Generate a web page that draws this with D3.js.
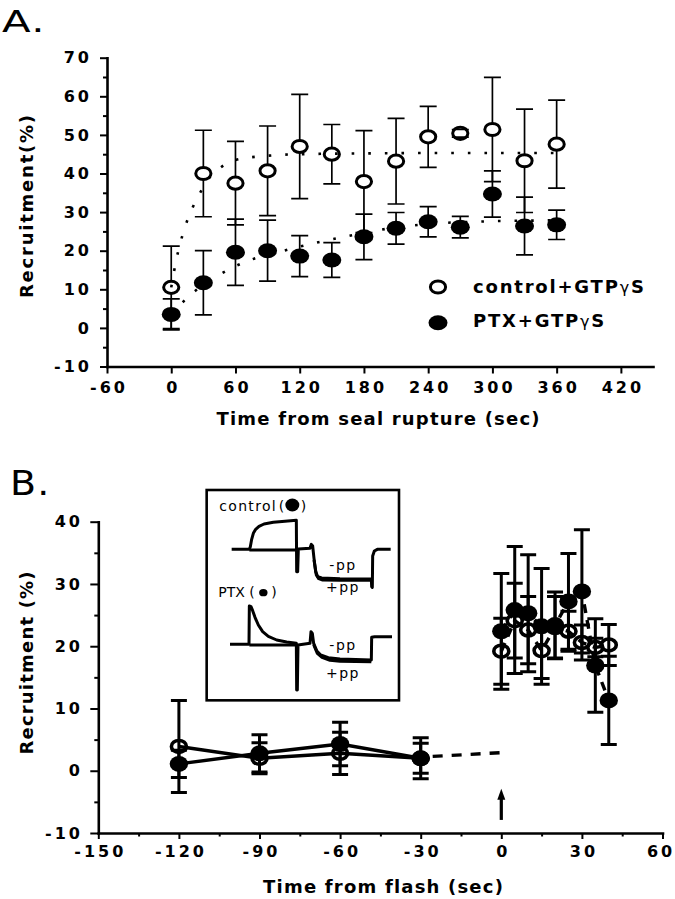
<!DOCTYPE html>
<html><head><meta charset="utf-8">
<script src="https://cdn.jsdelivr.net/npm/d3@7"></script>
<style>
body{margin:0;background:#fff;}
svg{display:block;}
</style></head><body>
<svg id="c" width="675" height="899"></svg>
<script>
// ================= DATA =================
// Panel A : recruitment vs time from seal rupture
const aTimes      = [0,30,60,90,120,150,180,210,240,270,300,330,360];
const aControl    = [10.5,40,37.5,40.7,47,45,37.9,43.2,49.5,50.4,51.4,43.3,47.6];
const aControlErr = [10.7,11.2,10.8,11.6,13.5,7.7,13.2,11.1,7.9,1.0,13.5,13.4,11.4];
const aPTX        = [3.5,11.7,19.6,20,18.6,17.6,23.6,25.8,27.5,26.1,34.7,26.4,26.7];
const aPTXErr     = [4,8.3,8.6,7.9,5.3,4.5,5.9,4.1,3.9,2.8,6,7.5,3.8];
// fitted (dotted) curves
const aControlFitT = [0,5,11,20,27,34,45,60,90,120,180,240,300,360];
const aControlFitY = [10.5,18,24.5,31.2,35,38.3,41.3,43.5,44.6,45,45.2,45.3,45.3,45.3];
const aPTXFitT = [0,15,30,45,60,75,104,134,162,193,224,255,283,308,339,360];
const aPTXFitY = [3.5,7.8,11.2,13.8,16,17.7,19.9,22,23.6,25.3,26.5,27.2,27.5,27.7,27.8,27.9];
const aXTicks = [-60,0,60,120,180,240,300,360,420];
const aYTicks = [-10,0,10,20,30,40,50,60,70];
const aYMinor = [-5,5,15,25,35,45,55,65];
const aLegend = ["control+GTP", "PTX+GTP"];

// Panel B : recruitment vs time from flash
const bPreT = [-120,-90,-60,-30];
const bPreOpen = [3.9,2.0,2.8,2.0];
const bPreOpenErr = [7.4,2.5,3.4,3.3];
const bPreFilled = [1.1,2.8,4.3,2.0];
const bPreFilledErr = [2.2,3.0,3.5,2.4];
const bPostT = [0,5,10,15,20,25,30,35,40];
const bPostOpen = [19.2,24.1,22.6,19.3,23.0,22.4,20.6,19.8,20.2];
const bPostOpenErr = [5.3,6.0,5.4,4.5,5.0,3.2,2.8,1.5,3.3];
const bPostFilled = [22.4,25.8,25.3,23.2,23.4,27.2,28.8,16.9,11.3];
const bPostFilledErr = [9.3,10.2,9.4,9.3,5.3,7.7,9.9,7.5,7.1];
const bBridgeT = [-30,0];
const bBridgeY = [2.2,2.9];
const bArrowT = 0, bArrowY = [-7.9,-2.9];
const bXTicks = [-150,-120,-90,-60,-30,0,30,60];
const bXMinor = [-135,-105,-75,-45,-15,15,45];
const bYTicks = [-10,0,10,20,30,40];
const bYMinor = [-5,5,15,25,35];

// Inset traces (arbitrary units)
const insCtrlTrace = [[95,208],[148,208],[151,200],[155,178],[160,160],[167,148],[177,139],[192,132],[220,127],[255,124],[289,121],[290,275],[293,275],[295,207],[330,205],[334,193],[338,198],[342,235],[347,275],[353,290],[365,294],[420,296],[514,297],[515,320],[517,322],[518,228],[523,213],[532,208],[572,208]];
const insCtrlBase = [[148,210],[290,210]];
const insCtrlLow  = [[342,240],[349,285],[356,296],[368,300],[420,301],[514,301]];
const insPtxTrace = [[90,493],[147,493],[148,378],[153,380],[158,392],[165,412],[175,435],[188,455],[205,469],[230,480],[260,486],[289,490],[290,630],[292,630],[294,495],[330,490],[333,455],[337,460],[341,490],[350,512],[362,525],[385,533],[420,537],[514,540],[515,472],[524,470],[576,470]];
const insPtxBase = [[148,495],[290,495]];
const insPtxLow  = [[341,494],[352,520],[366,532],[390,541],[420,544],[514,545]];

// ================= DRAW =================
const svg = d3.select("#c");
const FB = "DejaVu Sans, sans-serif";
const fmt = d => String(d);

function styleAxis(g, ls){
  g.select(".domain").attr("stroke","#000").attr("stroke-width",2.6).attr("stroke-linecap","square");
  g.selectAll(".tick line").attr("stroke","#000").attr("stroke-width",2);
  g.selectAll(".tick text").attr("font-family",FB).attr("font-weight","bold")
    .attr("font-size",16).attr("letter-spacing",ls).attr("fill","#000");
}
function minor(g){ g.select(".domain").remove(); g.selectAll(".tick line").attr("stroke","#000").attr("stroke-width",2); }

function errBars(g, ts, ys, es, xS, yS, cap, sw, withCaps, withStem){
  const d = ts.map((t,i)=>({t, y:ys[i], e:es[i]}));
  g.append("g").selectAll("path").data(d).join("path")
    .attr("d", p => {
      const x=xS(p.t), y1=yS(p.y+p.e), y0=yS(p.y-p.e);
      let s="";
      if(withStem) s+=`M${x},${y1}V${y0}`;
      if(withCaps) s+=`M${x-cap},${y1}H${x+cap}M${x-cap},${y0}H${x+cap}`;
      return s;
    })
    .attr("stroke","#000").attr("stroke-width",sw).attr("fill","none");
}
function markers(g, ts, ys, xS, yS, rx, ry, filled, sw, fillOpen){
  g.append("g").selectAll("ellipse").data(ts.map((t,i)=>({t,y:ys[i]}))).join("ellipse")
    .attr("cx",p=>xS(p.t)).attr("cy",p=>yS(p.y)).attr("rx",rx).attr("ry",ry)
    .attr("fill", filled ? "#000" : fillOpen)
    .attr("stroke", "#000").attr("stroke-width", filled ? 0 : sw);
}

// ---------- Panel A ----------
const xA = d3.scaleLinear().domain([-60,450]).range([107,653]);
const yA = d3.scaleLinear().domain([-10,70]).range([366.5,57.7]);
const gA = svg.append("g");

gA.append("g").attr("transform",`translate(0,${yA(-10)})`)
  .call(d3.axisBottom(xA).tickValues(aXTicks).tickFormat(fmt).tickSize(7).tickSizeOuter(0).tickPadding(7.8))
  .call(g=>styleAxis(g,3)).call(g=>g.selectAll(".tick text").attr("dx",1.5));
gA.append("g").attr("transform",`translate(${xA(-60)},0)`)
  .call(d3.axisLeft(yA).tickValues(aYTicks).tickFormat(fmt).tickSize(7).tickSizeOuter(0).tickPadding(8))
  .call(g=>styleAxis(g,3));
gA.append("g").attr("transform",`translate(${xA(-60)},0)`)
  .call(d3.axisLeft(yA).tickValues(aYMinor).tickSize(4).tickFormat(()=>""))
  .call(minor);

errBars(gA, aTimes, aControl, aControlErr, xA, yA, 8.5, 1.7, false, true);
errBars(gA, aTimes, aPTX, aPTXErr, xA, yA, 8.5, 1.7, false, true);
markers(gA, aTimes, aPTX, xA, yA, 9.5, 7.5, true);
markers(gA, aTimes, aControl, xA, yA, 7.6, 6.1, false, 3, "#fff");
errBars(gA, aTimes, aControl, aControlErr, xA, yA, 8.5, 1.7, true, false);
errBars(gA, aTimes, aPTX, aPTXErr, xA, yA, 8.5, 1.7, true, false);

const lineA = d3.line().x(d=>xA(d[0])).y(d=>yA(d[1])).curve(d3.curveMonotoneX);
gA.append("path").attr("d", lineA(aControlFitT.map((t,i)=>[t,aControlFitY[i]])))
  .attr("fill","none").attr("stroke","#000").attr("stroke-width",2.6).attr("stroke-dasharray","2.6,14");
gA.append("path").attr("d", lineA(aPTXFitT.map((t,i)=>[t,aPTXFitY[i]])))
  .attr("fill","none").attr("stroke","#000").attr("stroke-width",2.6).attr("stroke-dasharray","2.6,14");

// legend
const legA = gA.append("g");
legA.append("ellipse").attr("cx",438).attr("cy",287).attr("rx",7.6).attr("ry",6.1)
  .attr("fill","#fff").attr("stroke","#000").attr("stroke-width",3);
legA.append("ellipse").attr("cx",438).attr("cy",322.7).attr("rx",9.5).attr("ry",7.5).attr("fill","#000");
[[aLegend[0],293.3],[aLegend[1],326.7]].forEach(([s,y])=>{
  const t = legA.append("text").attr("x",473).attr("y",y).attr("font-family",FB)
    .attr("font-weight","bold").attr("font-size",18).attr("letter-spacing",1.8).attr("fill","#000");
  t.append("tspan").text(s);
  t.append("tspan").attr("font-weight","normal").attr("font-size",16).text("γ");
  t.append("tspan").text("S");
});

// titles
gA.append("text").attr("x",378).attr("y",425).attr("text-anchor","middle").attr("dx",0.6)
  .attr("font-family",FB).attr("font-weight","bold").attr("font-size",18).attr("letter-spacing",1.2)
  .text("Time from seal rupture (sec)");
gA.append("text").attr("transform","translate(32.5,206.5) rotate(-90)").attr("text-anchor","middle").attr("dx",0.9)
  .attr("font-family",FB).attr("font-weight","bold").attr("font-size",18).attr("letter-spacing",1.77)
  .text("Recruitment(%)");
gA.append("text").attr("transform","translate(2,32) scale(1.35,1)")
  .attr("font-family",FB).attr("font-size",31).attr("letter-spacing",1).text("A.");

// ---------- Panel B ----------
const xB = d3.scaleLinear().domain([-150,60]).range([98.3,662.5]);
const yB = d3.scaleLinear().domain([-10,40]).range([833,521.7]);
const gB = svg.append("g");

gB.append("g").attr("transform",`translate(0,${yB(-10)})`)
  .call(d3.axisBottom(xB).tickValues(bXTicks).tickFormat(fmt).tickSize(6).tickSizeOuter(0).tickPadding(6.6))
  .call(g=>styleAxis(g,3))
  .call(g=>g.selectAll(".tick text").attr("dx",d=> d===60 ? -2 : 1.5));
gB.append("g").attr("transform",`translate(0,${yB(-10)})`)
  .call(d3.axisBottom(xB).tickValues(bXMinor).tickSize(3.5).tickFormat(()=>""))
  .call(minor);
gB.append("g").attr("transform",`translate(${xB(-150)},0)`)
  .call(d3.axisLeft(yB).tickValues(bYTicks).tickFormat(fmt).tickSize(8).tickSizeOuter(0).tickPadding(7.3))
  .call(g=>styleAxis(g,3));
gB.append("g").attr("transform",`translate(${xB(-150)},0)`)
  .call(d3.axisLeft(yB).tickValues(bYMinor).tickSize(4).tickFormat(()=>""))
  .call(minor);

const lineB = d3.line().x(d=>xB(d[0])).y(d=>yB(d[1]));
const pairs = (ts,ys)=>ts.map((t,i)=>[t,ys[i]]);
// pre-flash solid lines
[bPreOpen,bPreFilled].forEach(ys=>{
  gB.append("path").attr("d",lineB(pairs(bPreT,ys))).attr("fill","none")
    .attr("stroke","#000").attr("stroke-width",3.4);
});
// bridge dashed
gB.append("path").attr("d",lineB(pairs(bBridgeT,bBridgeY))).attr("fill","none")
  .attr("stroke","#000").attr("stroke-width",3.4).attr("stroke-dasharray","10,9").attr("stroke-dashoffset",-12);
// post-flash dashed
[bPostOpen,bPostFilled].forEach(ys=>{
  gB.append("path").attr("d",lineB(pairs(bPostT,ys))).attr("fill","none")
    .attr("stroke","#000").attr("stroke-width",3.4).attr("stroke-dasharray","9,7");
});
// error bars
errBars(gB, bPreT, bPreOpen, bPreOpenErr, xB, yB, 8, 3, true, true);
errBars(gB, bPreT, bPreFilled, bPreFilledErr, xB, yB, 8, 3, true, true);
errBars(gB, bPostT, bPostOpen, bPostOpenErr, xB, yB, 8, 3, true, true);
errBars(gB, bPostT, bPostFilled, bPostFilledErr, xB, yB, 8, 3, true, true);
// markers
markers(gB, bPreT, bPreOpen, xB, yB, 7.5, 6, false, 3.6, "none");
markers(gB, bPostT, bPostOpen, xB, yB, 7.5, 6, false, 3.6, "none");
markers(gB, bPreT, bPreFilled, xB, yB, 9.2, 8, true);
markers(gB, bPostT, bPostFilled, xB, yB, 9.2, 8, true);

// arrow
const ax = xB(bArrowT), ay0 = yB(bArrowY[0]), ay1 = yB(bArrowY[1]);
gB.append("path").attr("d",`M${ax},${ay0}V${ay1+8}`).attr("stroke","#000").attr("stroke-width",3.2);
gB.append("path").attr("d",`M${ax},${ay1}L${ax-4},${ay1+11}L${ax+4},${ay1+11}Z`).attr("fill","#000");

// titles
gB.append("text").attr("x",383).attr("y",893).attr("text-anchor","middle").attr("dx",0.6)
  .attr("font-family",FB).attr("font-weight","bold").attr("font-size",18).attr("letter-spacing",1.2)
  .text("Time from flash (sec)");
gB.append("text").attr("transform","translate(32.5,663) rotate(-90)").attr("text-anchor","middle").attr("dx",0.6)
  .attr("font-family",FB).attr("font-weight","bold").attr("font-size",18).attr("letter-spacing",1.2)
  .text("Recruitment (%)");
gB.append("text").attr("transform","translate(10,495) scale(1.15,1)")
  .attr("font-family",FB).attr("font-size",33).attr("letter-spacing",1).text("B.");

// ---------- Inset ----------
const xi = d3.scaleLinear().domain([0,660]).range([200,420]);
const yi = d3.scaleLinear().domain([0,600]).range([480,680]);
const gI = svg.append("g");
gI.append("rect").attr("x",xi(20)).attr("y",yi(30)).attr("width",xi(597)-xi(20)).attr("height",yi(661)-yi(30))
  .attr("fill","none").attr("stroke","#000").attr("stroke-width",2.6);
const lineI = d3.line().x(d=>xi(d[0])).y(d=>yi(d[1]));
[insCtrlTrace,insCtrlBase,insCtrlLow,insPtxTrace,insPtxBase,insPtxLow].forEach(tr=>{
  gI.append("path").attr("d",lineI(tr)).attr("fill","none").attr("stroke","#000")
    .attr("stroke-width",3).attr("stroke-linejoin","round");
});
const FI = "DejaVu Sans, sans-serif";
function itext(x,y,s,ls){ return gI.append("text").attr("x",x).attr("y",y).attr("font-family",FI)
  .attr("font-size",14).attr("letter-spacing",ls||0).attr("fill","#000").text(s); }
itext(xi(58),yi(92),"control",1.3);
itext(xi(236),yi(92),"(");
gI.append("ellipse").attr("cx",xi(277)).attr("cy",yi(75)).attr("rx",7).attr("ry",6.5).attr("fill","#000");
itext(xi(302),yi(92),")");
itext(xi(55),yi(350),"PTX",0);
itext(xi(148),yi(350),"(");
gI.append("ellipse").attr("cx",xi(190)).attr("cy",yi(338)).attr("rx",4.2).attr("ry",3.6).attr("fill","#000");
itext(xi(214),yi(350),")");
itext(xi(388),yi(270),"-pp",1.5);
itext(xi(378),yi(336),"+pp",1.5);
itext(xi(388),yi(510),"-pp",1.5);
itext(xi(378),yi(595),"+pp",1.5);
</script>
</body></html>
